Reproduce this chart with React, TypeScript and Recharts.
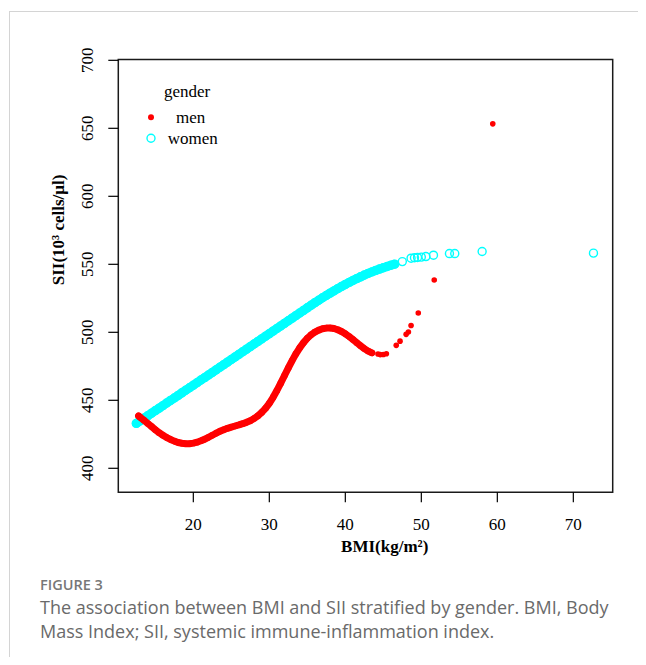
import React from 'react';
import { ScatterChart, Scatter, XAxis, YAxis, ReferenceArea } from 'recharts';

// BMI / SII readings taken off the figure
const menCurve = [
  { bmi: 12.8, sii: 438.5 }, { bmi: 13.0, sii: 437.5 }, { bmi: 13.5, sii: 435.3 }, { bmi: 14.0, sii: 433.0 },
  { bmi: 14.5, sii: 430.7 }, { bmi: 15.0, sii: 428.4 }, { bmi: 15.5, sii: 426.2 }, { bmi: 16.0, sii: 424.3 },
  { bmi: 16.5, sii: 422.6 }, { bmi: 17.0, sii: 421.2 }, { bmi: 17.5, sii: 420.0 }, { bmi: 18.0, sii: 419.0 },
  { bmi: 18.5, sii: 418.4 }, { bmi: 19.0, sii: 418.1 }, { bmi: 19.5, sii: 418.1 }, { bmi: 20.0, sii: 418.5 },
  { bmi: 20.5, sii: 419.2 }, { bmi: 21.0, sii: 420.2 }, { bmi: 21.5, sii: 421.4 }, { bmi: 22.0, sii: 422.8 },
  { bmi: 22.5, sii: 424.3 }, { bmi: 23.0, sii: 425.8 }, { bmi: 23.5, sii: 427.2 }, { bmi: 24.0, sii: 428.4 },
  { bmi: 24.5, sii: 429.4 }, { bmi: 25.0, sii: 430.3 }, { bmi: 25.5, sii: 431.1 }, { bmi: 26.0, sii: 431.9 },
  { bmi: 26.5, sii: 432.8 }, { bmi: 27.0, sii: 433.8 }, { bmi: 27.5, sii: 435.0 }, { bmi: 28.0, sii: 436.6 },
  { bmi: 28.5, sii: 438.6 }, { bmi: 29.0, sii: 441.1 }, { bmi: 29.5, sii: 444.1 }, { bmi: 30.0, sii: 447.8 },
  { bmi: 30.5, sii: 452.2 }, { bmi: 31.0, sii: 457.2 }, { bmi: 31.5, sii: 462.6 }, { bmi: 32.0, sii: 468.2 },
  { bmi: 32.5, sii: 473.8 }, { bmi: 33.0, sii: 479.2 }, { bmi: 33.5, sii: 484.2 }, { bmi: 34.0, sii: 488.6 },
  { bmi: 34.5, sii: 492.4 }, { bmi: 35.0, sii: 495.6 }, { bmi: 35.5, sii: 498.2 }, { bmi: 36.0, sii: 500.2 },
  { bmi: 36.5, sii: 501.6 }, { bmi: 37.0, sii: 502.6 }, { bmi: 37.5, sii: 503.1 }, { bmi: 38.0, sii: 503.2 },
  { bmi: 38.5, sii: 502.8 }, { bmi: 39.0, sii: 501.9 }, { bmi: 39.5, sii: 500.6 }, { bmi: 40.0, sii: 498.9 },
  { bmi: 40.5, sii: 496.9 }, { bmi: 41.0, sii: 494.7 }, { bmi: 41.5, sii: 492.4 }, { bmi: 42.0, sii: 490.1 },
  { bmi: 42.5, sii: 488.0 }, { bmi: 43.0, sii: 486.2 }, { bmi: 43.5, sii: 484.9 },
];

const menTail = [
  { bmi: 44.3, sii: 484.0 }, { bmi: 44.6, sii: 483.6 }, { bmi: 45.0, sii: 483.7 }, { bmi: 45.4, sii: 484.2 },
  { bmi: 46.7, sii: 490.4 }, { bmi: 47.2, sii: 493.5 }, { bmi: 48.0, sii: 498.5 }, { bmi: 48.3, sii: 500.2 },
  { bmi: 48.65, sii: 505.0 }, { bmi: 49.6, sii: 514.2 }, { bmi: 51.7, sii: 538.5 }, { bmi: 59.4, sii: 653.3 },
];

const womenCurve = [
  { bmi: 12.5, sii: 433.0 }, { bmi: 13.0, sii: 434.9 }, { bmi: 13.5, sii: 436.8 }, { bmi: 14.0, sii: 438.6 },
  { bmi: 14.5, sii: 440.5 }, { bmi: 15.0, sii: 442.4 }, { bmi: 15.5, sii: 444.2 }, { bmi: 16.0, sii: 446.1 },
  { bmi: 16.5, sii: 448.0 }, { bmi: 17.0, sii: 449.9 }, { bmi: 17.5, sii: 451.7 }, { bmi: 18.0, sii: 453.6 },
  { bmi: 18.5, sii: 455.5 }, { bmi: 19.0, sii: 457.4 }, { bmi: 19.5, sii: 459.2 }, { bmi: 20.0, sii: 461.1 },
  { bmi: 20.5, sii: 463.0 }, { bmi: 21.0, sii: 464.9 }, { bmi: 21.5, sii: 466.7 }, { bmi: 22.0, sii: 468.6 },
  { bmi: 22.5, sii: 470.5 }, { bmi: 23.0, sii: 472.4 }, { bmi: 23.5, sii: 474.3 }, { bmi: 24.0, sii: 476.2 },
  { bmi: 24.5, sii: 478.1 }, { bmi: 25.0, sii: 480.0 }, { bmi: 25.5, sii: 481.9 }, { bmi: 26.0, sii: 483.8 },
  { bmi: 26.5, sii: 485.7 }, { bmi: 27.0, sii: 487.6 }, { bmi: 27.5, sii: 489.5 }, { bmi: 28.0, sii: 491.4 },
  { bmi: 28.5, sii: 493.3 }, { bmi: 29.0, sii: 495.2 }, { bmi: 29.5, sii: 497.1 }, { bmi: 30.0, sii: 499.0 },
  { bmi: 30.5, sii: 500.9 }, { bmi: 31.0, sii: 502.8 }, { bmi: 31.5, sii: 504.7 }, { bmi: 32.0, sii: 506.6 },
  { bmi: 32.5, sii: 508.5 }, { bmi: 33.0, sii: 510.4 }, { bmi: 33.5, sii: 512.3 }, { bmi: 34.0, sii: 514.2 },
  { bmi: 34.5, sii: 516.1 }, { bmi: 35.0, sii: 518.0 }, { bmi: 35.5, sii: 519.9 }, { bmi: 36.0, sii: 521.8 },
  { bmi: 36.5, sii: 523.6 }, { bmi: 37.0, sii: 525.4 }, { bmi: 37.5, sii: 527.1 }, { bmi: 38.0, sii: 528.8 },
  { bmi: 38.5, sii: 530.5 }, { bmi: 39.0, sii: 532.1 }, { bmi: 39.5, sii: 533.7 }, { bmi: 40.0, sii: 535.2 },
  { bmi: 40.5, sii: 536.7 }, { bmi: 41.0, sii: 538.1 }, { bmi: 41.5, sii: 539.5 }, { bmi: 42.0, sii: 540.8 },
  { bmi: 42.5, sii: 542.1 }, { bmi: 43.0, sii: 543.3 }, { bmi: 43.5, sii: 544.4 }, { bmi: 44.0, sii: 545.5 },
  { bmi: 44.5, sii: 546.5 }, { bmi: 45.0, sii: 547.5 }, { bmi: 45.5, sii: 548.4 }, { bmi: 46.0, sii: 549.3 },
  { bmi: 46.5, sii: 550.1 },
];

const womenTail = [
  { bmi: 47.5, sii: 552.0 }, { bmi: 48.65, sii: 554.5 }, { bmi: 49.1, sii: 554.8 }, { bmi: 49.5, sii: 555.0 },
  { bmi: 50.0, sii: 555.3 }, { bmi: 50.6, sii: 555.7 }, { bmi: 51.6, sii: 556.7 }, { bmi: 53.7, sii: 557.9 },
  { bmi: 54.4, sii: 557.9 }, { bmi: 58.0, sii: 559.4 }, { bmi: 72.65, sii: 558.2 },
];

const xTicks = [20, 30, 40, 50, 60, 70];
const yTicks = [400, 450, 500, 550, 600, 650, 700];
const xDomain = [10.13, 75.18];
const yDomain = [382.35, 700.6];

const RED = '#ff0000';
const CYAN = '#00ffff';
const SERIF = '"Liberation Serif", "Times New Roman", serif';

const XTick = (props: any) => {
  const { x, y, payload } = props;
  return (
    <text x={x} y={y} dy={28} textAnchor="middle" fontFamily={SERIF} fontSize={17} fill="#000">
      {payload.value}
    </text>
  );
};

const YTick = (props: any) => {
  const { x, y, payload } = props;
  const cx = x - 20.8;
  return (
    <text x={cx} y={y} dy={5.8} transform={`rotate(-90 ${cx} ${y})`} textAnchor="middle"
      fontFamily={SERIF} fontSize={17} fill="#000">
      {payload.value}
    </text>
  );
};

const dot = (r: number) => (p: any) => <circle cx={p.cx} cy={p.cy} r={r} fill={RED} />;
const ring = (p: any) => <circle cx={p.cx} cy={p.cy} r={4} fill="none" stroke={CYAN} strokeWidth={1.4} />;

export default function App() {
  return (
    <div style={{ position: 'relative', width: 646, height: 665, margin: -8, overflow: 'hidden', background: '#fff' }}>
      <div style={{ position: 'absolute', left: 9, top: 11, width: 700, height: 700,
        borderTop: '1px solid #d4d4d4', borderLeft: '1px solid #d4d4d4' }} />

      <ScatterChart width={646} height={665} margin={{ top: 59.5, right: 33.3, bottom: 112.7, left: 0 }}
        style={{ position: 'absolute', left: 0, top: 0 }}>
        <XAxis type="number" dataKey="bmi" domain={xDomain} ticks={xTicks} allowDataOverflow
          height={60} axisLine={false} tickSize={10} tickMargin={0}
          tickLine={{ stroke: '#000', strokeWidth: 1.2 }} tick={<XTick />} interval={0} />
        <YAxis type="number" dataKey="sii" domain={yDomain} ticks={yTicks} allowDataOverflow
          width={118.3} axisLine={false} tickSize={10} tickMargin={0}
          tickLine={{ stroke: '#000', strokeWidth: 1.2 }} tick={<YTick />} interval={0} />
        <ReferenceArea x1={xDomain[0]} x2={xDomain[1]} y1={yDomain[0]} y2={yDomain[1]}
          fill="none" fillOpacity={0} stroke="#1a1a1a" strokeWidth={1.5} ifOverflow="visible" />
        <Scatter name="women" data={womenCurve} line={{ stroke: CYAN, strokeWidth: 9, strokeLinecap: 'round', strokeLinejoin: 'round' }}
          lineType="joint" shape={ring} isAnimationActive={false} />
        <Scatter name="women" data={womenTail} shape={ring} isAnimationActive={false} />
        <Scatter name="men" data={menCurve} line={{ stroke: RED, strokeWidth: 7, strokeLinecap: 'round', strokeLinejoin: 'round' }}
          lineType="joint" shape={dot(3.2)} isAnimationActive={false} />
        <Scatter name="men" data={menTail} shape={dot(2.8)} isAnimationActive={false} />
      </ScatterChart>

      <svg width={646} height={665} style={{ position: 'absolute', left: 0, top: 0, pointerEvents: 'none' }}
        fontFamily={SERIF}>
        <text x={58} y={230} dy={5.5} transform="rotate(-90 58 230)" textAnchor="middle" fontSize={17} fontWeight="bold" fill="#000">
          SII(10³ cells/μl)
        </text>
        <text x={384.7} y={551.5} textAnchor="middle" fontSize={17} fontWeight="bold" fill="#000">
          BMI(kg/m²)
        </text>
        <text x={164} y={96.5} fontSize={17} fill="#000">gender</text>
        <circle cx={151} cy={117.3} r={3} fill={RED} />
        <text x={176} y={122.5} fontSize={17} fill="#000">men</text>
        <circle cx={151} cy={138.3} r={4} fill="none" stroke={CYAN} strokeWidth={1.4} />
        <text x={167.7} y={143.5} fontSize={17} fill="#000">women</text>
      </svg>

      <div style={{ position: 'absolute', left: 40, top: 575, fontFamily: '"Open Sans", sans-serif',
        fontSize: 14.5, fontWeight: 600, color: '#777', lineHeight: '20px' }}>
        FIGURE 3
      </div>
      <div style={{ position: 'absolute', left: 40, top: 596, fontFamily: '"Open Sans", sans-serif',
        fontSize: 18, color: '#6a6a6a', lineHeight: '23.5px', whiteSpace: 'nowrap' }}>
        The association between BMI and SII stratified by gender. BMI, Body<br />
        Mass Index; SII, systemic immune-inflammation index.
      </div>
    </div>
  );
}
